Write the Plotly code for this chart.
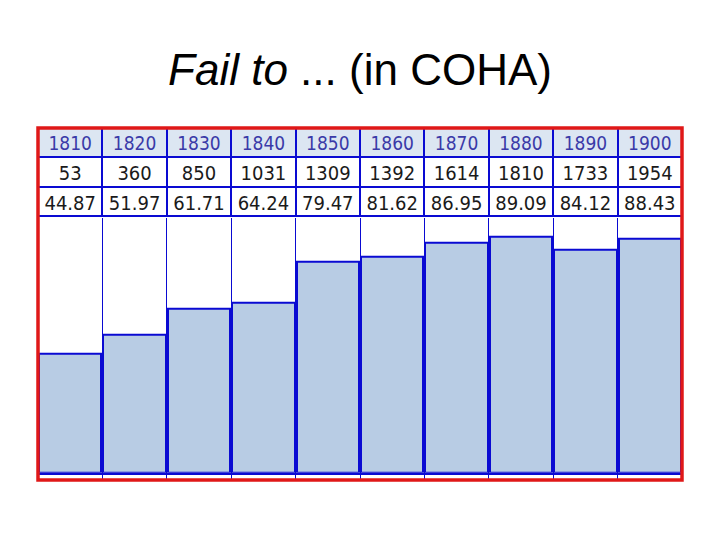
import plotly.graph_objects as go

years = ["1810", "1820", "1830", "1840", "1850", "1860", "1870", "1880", "1890", "1900"]
counts = [53, 360, 850, 1031, 1309, 1392, 1614, 1810, 1733, 1954]
per_million = [44.87, 51.97, 61.71, 64.24, 79.47, 81.62, 86.95, 89.09, 84.12, 88.43]

BLUE = "#0a0ad2"
RED = "#e01818"
FILL = "#b8cce4"
HEAD = "#dce6f2"

# page body has an 8px default margin; size the figure so it fits the window
OFF = 8
W, H = 720 - 2 * OFF, 540 - 2 * OFF
L, R, T, B = 30, 30, 120, 52
ph = H - T - B
pw = W - L - R

def py(screen_pix):
    return (H - B - (screen_pix - OFF)) / ph

x_idx = list(range(len(years)))
col_px = pw / len(years)

fig = go.Figure()

fig.add_trace(go.Bar(
    x=x_idx, y=per_million, width=1.0 - 2.0 / col_px,
    marker=dict(color=FILL, line=dict(color=BLUE, width=2)),
    hoverinfo="skip", showlegend=False,
))

fig.add_trace(go.Table(
    domain=dict(x=[0, 1], y=[py(217.7), 1.0]),
    columnwidth=[1] * len(years),
    header=dict(
        values=years,
        fill_color=HEAD,
        line=dict(color=BLUE, width=2),
        font=dict(family="DejaVu Sans Condensed, DejaVu Sans", size=19, color="#3a3aa8"),
        align="center", height=29,
    ),
    cells=dict(
        values=[[str(c), f"{p:.2f}"] for c, p in zip(counts, per_million)],
        fill_color="white",
        line=dict(color=BLUE, width=2),
        font=dict(family="DejaVu Sans Condensed, DejaVu Sans", size=20, color="#1a1a1a"),
        align="center", height=29.5,
    ),
))

fig.update_layout(
    width=W, height=H,
    margin=dict(l=L, r=R, t=T, b=B, pad=0),
    paper_bgcolor="white", plot_bgcolor="white",
    bargap=0,
    xaxis=dict(
        range=[-0.5, len(years) - 0.5],
        tickmode="array",
        tickvals=[i - 0.5 for i in range(len(years) + 1)],
        showticklabels=False,
        ticks="outside", ticklen=6, tickcolor=BLUE, tickwidth=1,
        showgrid=True, gridcolor=BLUE, gridwidth=1,
        showline=True, linecolor=BLUE, linewidth=2,
        zeroline=False, fixedrange=True,
    ),
    yaxis=dict(
        domain=[py(472.8), py(217.7)],
        range=[0, 96.2],
        showgrid=False, showticklabels=False, zeroline=False,
        showline=False, ticks="", fixedrange=True,
    ),
    title=dict(
        text="<i>Fail to</i> ... (in COHA)",
        font=dict(family="Liberation Sans, Arial", size=44, color="black"),
        x=0.5, xanchor="center", xref="paper",
        y=1 - (70 - OFF) / H, yanchor="middle", yref="container",
    ),
    shapes=[dict(
        type="rect", xref="paper", yref="paper",
        x0=0, x1=1, y0=0, y1=1,
        line=dict(color=RED, width=3.5), layer="above",
    )],
)

fig.write_html("out.html")
